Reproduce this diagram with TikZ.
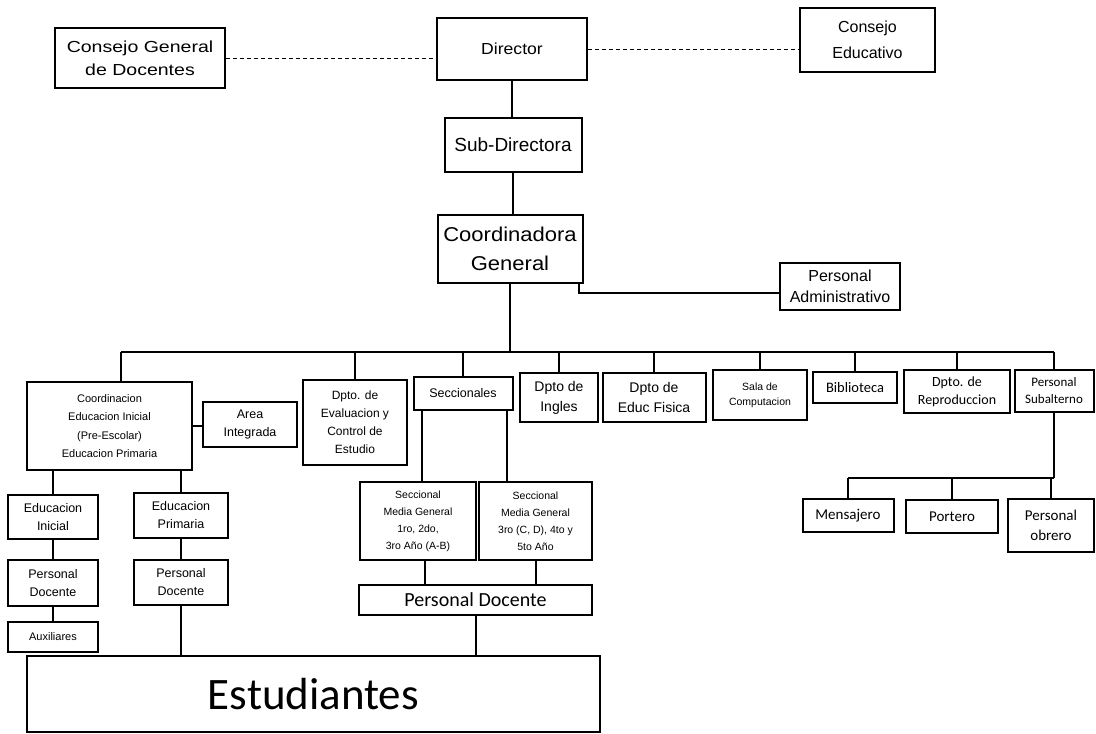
\documentclass[tikz,border=0pt]{standalone}
\usepackage{fontspec}
\setmainfont{Liberation Sans}
\newfontfamily\calib{Carlito}
\newcommand{\fs}[2]{\fontsize{#1}{#2}\selectfont}
\begin{document}
\begin{tikzpicture}[x=1pt,y=-1pt,
  box/.style={draw=black,line width=2pt,fill=white,align=center,inner sep=1pt,font=\fs{13}{16}},
  sbox/.style={box,font=\fs{12}{18}},
  cbox/.style={box,font=\calib\fs{14}{17}},
  conn/.style={line width=2pt,draw=black},
  dconn/.style={line width=1pt,draw=black,dashed,dash pattern=on 4pt off 3pt}]
\useasboundingbox (0,0) rectangle (1096,734);
% top level
\node[box,minimum width=170pt,minimum height=60pt,font=\fs{16}{23}] (cgd) at (140,58) {\scalebox{1.22}[1]{Consejo General}\\\scalebox{1.22}[1]{de Docentes}};
\node[box,minimum width=150pt,minimum height=62pt,font=\fs{16}{20}] (dir) at (512,49) {\scalebox{1.1}[1]{Director}};
\node[box,minimum width=135pt,minimum height=64pt,font=\fs{16}{26}] (ced) at (867.5,40) {Consejo\\Educativo};
\node[box,minimum width=137pt,minimum height=54pt,font=\fs{19}{22}] (sub) at (513,145) {Sub-Directora};
\node[box,minimum width=145pt,minimum height=68pt,font=\fs{20}{29}] (cog) at (510,249) {\scalebox{1.1}[1]{Coordinadora}\\\scalebox{1.1}[1]{General}};
\node[box,minimum width=120pt,minimum height=47pt,font=\fs{16}{21}] (adm) at (840,286.5) {Personal\\Administrativo};
% second level
\node[sbox,minimum width=165pt,minimum height=88pt,font=\fs{11}{18.5}] (cei) at (109.5,426) {Coordinacion\\Educacion Inicial\\(Pre-Escolar)\\Educacion Primaria};
\node[sbox,minimum width=94pt,minimum height=45pt,font=\fs{12.5}{18}] (ai) at (250,424.5) {Area\\Integrada};
\node[sbox,minimum width=104pt,minimum height=85pt] (dec) at (355,422.5) {Dpto. de\\Evaluacion y\\Control de\\Estudio};
\node[sbox,minimum width=99pt,minimum height=33pt,font=\fs{12.5}{16}] (sec) at (463,393.5) {Seccionales};
\node[box,minimum width=78pt,minimum height=49pt,font=\fs{14}{20}] (ing) at (559,397.5) {Dpto de\\Ingles};
\node[box,minimum width=103pt,minimum height=49pt,font=\fs{14}{20}] (edf) at (654,397.5) {Dpto de\\Educ Fisica};
\node[sbox,minimum width=94pt,minimum height=50pt,font=\fs{10.5}{15}] (sco) at (760,395) {Sala de\\Computacion};
\node[cbox,minimum width=84pt,minimum height=31pt,font=\calib\fs{14.5}{17}] (bib) at (855,387.5) {Biblioteca};
\node[cbox,minimum width=106pt,minimum height=43pt,font=\calib\fs{14}{18}] (rep) at (957,391.5) {Dpto. de\\Reproduccion};
\node[cbox,minimum width=79pt,minimum height=42pt,font=\calib\fs{13}{17}] (sba) at (1054,391) {Personal\\Subalterno};
% subalterno children
\node[cbox,minimum width=91pt,minimum height=33pt,font=\calib\fs{15}{18}] (msj) at (848,515.5) {Mensajero};
\node[cbox,minimum width=92pt,minimum height=33pt,font=\calib\fs{15}{18}] (por) at (952,516.5) {Portero};
\node[cbox,minimum width=86pt,minimum height=53pt,font=\calib\fs{15}{20}] (pob) at (1051,525.5) {Personal\\obrero};
% left branch
\node[sbox,minimum width=90pt,minimum height=44pt,font=\fs{12.5}{18}] (ein) at (53,517) {Educacion\\Inicial};
\node[sbox,minimum width=94pt,minimum height=45pt,font=\fs{12.5}{18}] (epr) at (181,515.5) {Educacion\\Primaria};
\node[sbox,minimum width=90pt,minimum height=46pt,font=\fs{12.5}{18}] (pd1) at (53,583) {Personal\\Docente};
\node[sbox,minimum width=94pt,minimum height=45pt,font=\fs{12.5}{18}] (pd2) at (181,582.5) {Personal\\Docente};
\node[sbox,minimum width=90pt,minimum height=30pt,font=\fs{11}{14}] (aux) at (53,637) {Auxiliares};
% seccionales
\node[sbox,minimum width=116pt,minimum height=78pt,font=\fs{10.5}{17}] (s1) at (418,521) {Seccional\\Media General\\1ro, 2do,\\3ro Año (A-B)};
\node[sbox,minimum width=113pt,minimum height=78pt,font=\fs{10.5}{17}] (s2) at (535.5,521) {Seccional\\Media General\\3ro (C, D), 4to y\\5to Año};
\node[cbox,minimum width=233pt,minimum height=30pt,font=\calib\fs{20}{22}] (pdc) at (475.5,600) {Personal Docente};
\node[cbox,minimum width=573pt,minimum height=76pt,font=\calib\fs{45}{50}] (est) at (313.5,694) {Estudiantes};
% connectors
\draw[dconn] (cgd.east) -- (cgd.east -| dir.west);
\draw[dconn] (dir.east) -- (dir.east -| ced.west);
\draw[conn] (dir.south) -- (dir.south |- sub.north);
\draw[conn] (sub.south) -- (sub.south |- cog.north);
\draw[conn] ([xshift=-5pt]cog.south east) |- ([yshift=-6pt]adm.west);
\coordinate (busL) at (121,352);
\coordinate (busR) at (1054,352);
\draw[conn] (busL) -- (busR);
\draw[conn] (cog.south) -- (cog.south |- busL);
\draw[conn] ([xshift=11.5pt]cei.north) -- ([xshift=11.5pt]cei.north |- busL);
\foreach \n in {dec,sec,ing,edf,sco,bib,rep,sba}{
  \draw[conn] (\n.north) -- (\n.north |- busL);
}
\draw[conn] (cei.east) -- (cei.east -| ai.west);
\draw[conn] (ein.north) -- (ein.north |- cei.south);
\draw[conn] (epr.north) -- (epr.north |- cei.south);
\draw[conn] (ein.south) -- (pd1.north);
\draw[conn] (pd1.south) -- (aux.north);
\draw[conn] (epr.south) -- (pd2.north);
\draw[conn] (pd2.south) -- (pd2.south |- est.north);
\draw[conn] ([xshift=9pt]sec.south west) -- ([xshift=9pt]sec.south west |- s1.north);
\draw[conn] ([xshift=-7pt]sec.south east) -- ([xshift=-7pt]sec.south east |- s2.north);
\draw[conn] ([xshift=7pt]s1.south) -- ([xshift=7pt]s1.south |- pdc.north);
\draw[conn] (s2.south) -- (s2.south |- pdc.north);
\draw[conn] (pdc.south) -- (pdc.south |- est.north);
\coordinate (bus2L) at (848,478);
\coordinate (bus2R) at (1054,478);
\draw[conn] (sba.south) -- (bus2R);
\draw[conn] (bus2L) -- (bus2R);
\foreach \n in {msj,por,pob}{
  \draw[conn] (\n.north) -- (\n.north |- bus2L);
}
\end{tikzpicture}
\end{document}
